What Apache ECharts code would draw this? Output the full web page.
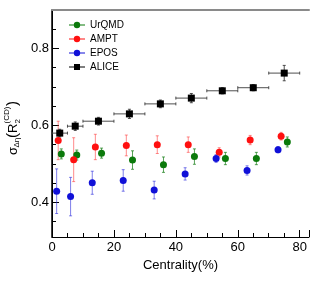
<!DOCTYPE html>
<html>
<head>
<meta charset="utf-8">
<script src="https://cdn.jsdelivr.net/npm/echarts@6/dist/echarts.min.js"></script>
<style>html,body{margin:0;padding:0;background:#fff;}#c{width:315px;height:285px;}</style>
</head>
<body>
<div id="c"></div>
<script>
// ---- data ----
const urqmdX = [3, 8, 16, 26, 36, 46, 56, 66, 76];
const urqmdY = [0.526, 0.523, 0.528, 0.510, 0.498, 0.519, 0.514, 0.514, 0.557];
const urqmdErr = [0.013, 0.013, 0.013, 0.024, 0.020, 0.020, 0.016, 0.016, 0.013];

const amptX = [2, 7, 14, 24, 34, 44, 54, 64, 74];
const amptY = [0.561, 0.511, 0.544, 0.548, 0.550, 0.550, 0.530, 0.562, 0.572];
const amptErr = [0.050, 0.057, 0.033, 0.027, 0.023, 0.020, 0.012, 0.012, 0.010];

const eposX = [1.5, 6, 13, 23, 33, 43, 53, 63, 73];
const eposY = [0.429, 0.415, 0.451, 0.457, 0.432, 0.474, 0.514, 0.483, 0.537];
const eposErr = [0.058, 0.050, 0.030, 0.028, 0.023, 0.016, 0.010, 0.012, 0.008];

const aliceX = [2.5, 7.5, 15, 25, 35, 45, 55, 65, 75];
const aliceXErr = [2.5, 2.5, 5, 5, 5, 5, 5, 5, 5];
const aliceY = [0.580, 0.598, 0.611, 0.630, 0.656, 0.671, 0.690, 0.698, 0.736];
const aliceErr = [0.010, 0.011, 0.010, 0.012, 0.010, 0.012, 0.008, 0.008, 0.020];

const xTickLabels = [0, 20, 40, 60, 80];
const yTickLabels = [0.4, 0.6, 0.8];
const yMinorTicks = [0.35, 0.4, 0.45, 0.5, 0.55, 0.6, 0.65, 0.7, 0.75, 0.8, 0.85];

const X_MIN = 0, X_MAX = 83, Y_MIN = 0.31, Y_MAX = 0.9;
const FONT = 'Liberation Sans, Arial, Helvetica, sans-serif';

function pts(xs, ys) { return xs.map((x, i) => [x, ys[i]]); }
function errPts(xs, ys, ye, xe) { return xs.map((x, i) => [x, ys[i], ye[i], xe ? xe[i] : 0]); }

function errSeries(name, data, color) {
  return {
    type: 'custom', name: name + '_err', data: data, z: 2,
    renderItem: function (params, api) {
      const x = api.value(0), y = api.value(1), ye = api.value(2), xe = api.value(3);
      const c = api.coord([x, y]);
      const top = api.coord([x, y + ye]);
      const bot = api.coord([x, y - ye]);
      const children = [];
      const st = { stroke: color, lineWidth: 1 };
      children.push({ type: 'line', shape: { x1: c[0], y1: top[1], x2: c[0], y2: bot[1] }, style: st });
      children.push({ type: 'line', shape: { x1: c[0] - 1.5, y1: top[1], x2: c[0] + 1.5, y2: top[1] }, style: st });
      children.push({ type: 'line', shape: { x1: c[0] - 1.5, y1: bot[1], x2: c[0] + 1.5, y2: bot[1] }, style: st });
      if (xe > 0) {
        const l = api.coord([x - xe, y]), r = api.coord([x + xe, y]);
        children.push({ type: 'line', shape: { x1: l[0], y1: c[1], x2: r[0], y2: c[1] }, style: st });
        children.push({ type: 'line', shape: { x1: l[0], y1: c[1] - 1.5, x2: l[0], y2: c[1] + 1.5 }, style: st });
        children.push({ type: 'line', shape: { x1: r[0], y1: c[1] - 1.5, x2: r[0], y2: c[1] + 1.5 }, style: st });
      }
      return { type: 'group', children: children };
    }
  };
}

const circleIcon = 'path://M0,3.5H16V4.5H0Z M11.2,4A3.2,3.2 0 1 1 4.8,4A3.2,3.2 0 1 1 11.2,4Z';
const squareIcon = 'path://M0,3.5H16V4.5H0Z M5,1H11V7H5Z';

const cGreen = '#0b7a0b', cRed = '#ff1010', cBlue = '#1010d8', cBlack = '#000000';

const chart = echarts.init(document.getElementById('c'), null, { renderer: 'canvas' });
chart.setOption({
  animation: false,
  backgroundColor: '#ffffff',
  textStyle: { fontFamily: FONT },
  grid: { left: 52, right: 6, top: 10, bottom: 48, containLabel: false },
  legend: {
    orient: 'vertical', left: 69, top: 20, padding: 0, itemWidth: 16, itemHeight: 8, itemGap: 4,
    textStyle: { fontSize: 10, color: '#000', fontFamily: FONT },
    data: [
      { name: 'UrQMD', icon: circleIcon },
      { name: 'AMPT', icon: circleIcon },
      { name: 'EPOS', icon: circleIcon },
      { name: 'ALICE', icon: squareIcon }
    ]
  },
  xAxis: [
    {
      type: 'value', min: X_MIN, max: X_MAX, interval: 5,
      axisLine: { show: true, lineStyle: { color: '#000', width: 1 } },
      axisTick: { show: true, inside: true, length: 4, lineStyle: { color: '#000' } },
      axisLabel: {
        show: true, margin: 4, fontSize: 13, color: '#000', fontFamily: FONT,
        showMinLabel: true, showMaxLabel: false,
        formatter: function (v) { return xTickLabels.indexOf(Math.round(v * 1000) / 1000) >= 0 ? String(v) : ''; }
      },
      splitLine: { show: false },
      name: 'Centrality(%)', nameLocation: 'middle', nameGap: 22,
      nameTextStyle: { fontSize: 13, color: '#000', fontFamily: FONT }
    },
    {
      type: 'value', min: X_MIN, max: X_MAX, interval: 20, position: 'bottom',
      axisLine: { show: false },
      axisTick: { show: true, inside: true, length: 7, lineStyle: { color: '#000' } },
      axisLabel: { show: false }, splitLine: { show: false }
    },
    {
      type: 'value', min: X_MIN, max: X_MAX, position: 'top',
      axisLine: { show: true, lineStyle: { color: '#8a8a8a', width: 2 } },
      axisTick: { show: false }, axisLabel: { show: false }, splitLine: { show: false }
    }
  ],
  yAxis: [
    {
      type: 'value', min: Y_MIN, max: Y_MAX,
      axisLine: { show: true, lineStyle: { color: '#000', width: 1 } },
      axisTick: { show: true, inside: true, length: 4, lineStyle: { color: '#000' }, customValues: yMinorTicks },
      axisLabel: { show: false }, splitLine: { show: false }
    },
    {
      type: 'value', min: Y_MIN, max: Y_MAX, position: 'left',
      axisLine: { show: false },
      axisTick: { show: true, inside: true, length: 7, lineStyle: { color: '#000' }, customValues: yTickLabels },
      axisLabel: {
        show: true, margin: 3, fontSize: 13, color: '#000', fontFamily: FONT,
        customValues: yTickLabels,
        formatter: function (v) { return (Math.round(v * 1000) / 1000).toFixed(1); }
      },
      splitLine: { show: false }
    },
    {
      type: 'value', min: Y_MIN, max: Y_MAX, position: 'right',
      axisLine: { show: true, lineStyle: { color: '#000', width: 1.5 } },
      axisTick: { show: false }, axisLabel: { show: false }, splitLine: { show: false }
    }
  ],
  graphic: [{
    type: 'group', x: 13, y: 155, rotation: Math.PI / 2,
    children: [
      { type: 'text', x: 0, y: 0, style: { text: 'σ', font: '13px ' + FONT, fill: '#000', verticalAlign: 'middle' } },
      { type: 'text', x: 7.5, y: 4, style: { text: 'Δη', font: '8px ' + FONT, fill: '#000', verticalAlign: 'middle' } },
      { type: 'text', x: 17, y: -0.5, style: { text: '(', font: '15px ' + FONT, fill: '#000', verticalAlign: 'middle' } },
      { type: 'text', x: 22, y: 0, style: { text: 'R', font: '13px ' + FONT, fill: '#000', verticalAlign: 'middle' } },
      { type: 'text', x: 31.5, y: 4.5, style: { text: '2', font: '8px ' + FONT, fill: '#000', verticalAlign: 'middle' } },
      { type: 'text', x: 31.5, y: -6, style: { text: '(CD)', font: '8px ' + FONT, fill: '#000', verticalAlign: 'middle' } },
      { type: 'text', x: 49, y: -0.5, style: { text: ')', font: '15px ' + FONT, fill: '#000', verticalAlign: 'middle' } }
    ]
  }],
  series: [
    errSeries('UrQMD', errPts(urqmdX, urqmdY, urqmdErr), 'rgba(30,130,30,0.75)'),
    errSeries('AMPT', errPts(amptX, amptY, amptErr), 'rgba(255,60,60,0.6)'),
    errSeries('EPOS', errPts(eposX, eposY, eposErr), 'rgba(40,40,220,0.6)'),
    errSeries('ALICE', errPts(aliceX, aliceY, aliceErr, aliceXErr), 'rgba(60,60,60,0.9)'),
    { type: 'scatter', name: 'UrQMD', data: pts(urqmdX, urqmdY), symbol: 'circle', symbolSize: 7, z: 3, itemStyle: { color: cGreen, opacity: 1 } },
    { type: 'scatter', name: 'AMPT', data: pts(amptX, amptY), symbol: 'circle', symbolSize: 7, z: 3, itemStyle: { color: cRed, opacity: 1 } },
    { type: 'scatter', name: 'EPOS', data: pts(eposX, eposY), symbol: 'circle', symbolSize: 7, z: 3, itemStyle: { color: cBlue, opacity: 1 } },
    { type: 'scatter', name: 'ALICE', data: pts(aliceX, aliceY), symbol: 'rect', symbolSize: 7, z: 3, itemStyle: { color: cBlack, opacity: 1 } }
  ]
});
</script>
</body>
</html>
